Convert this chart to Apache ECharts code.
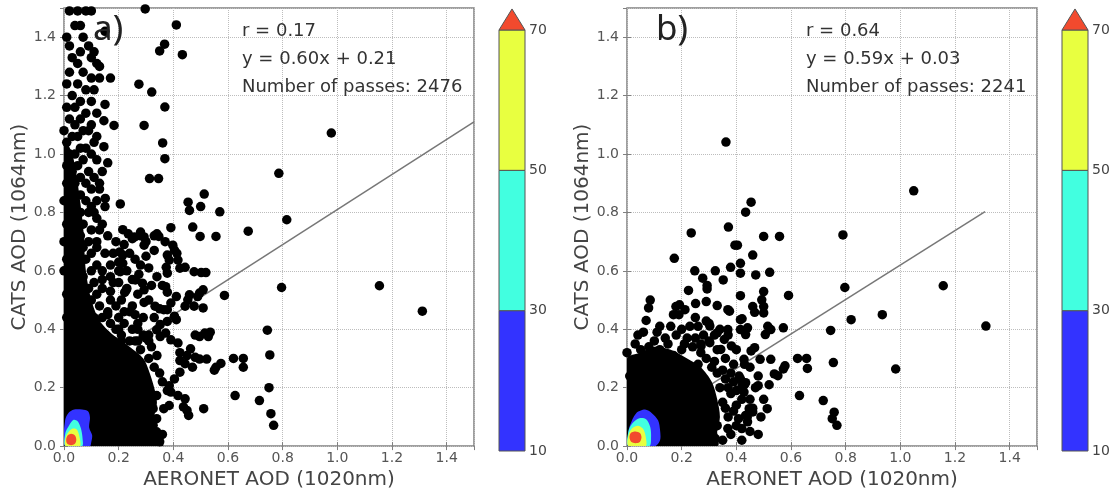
<!DOCTYPE html>
<html>
<head>
<meta charset="utf-8">
<script src="https://cdn.jsdelivr.net/npm/echarts@6/dist/echarts.min.js"></script>
<style>html,body{margin:0;padding:0;background:#fff}#c{width:1120px;height:495px}</style>
</head>
<body>
<div id="c"></div>
<script>
// ---------------- DATA ----------------
const xTickLabels = ['0.0','0.2','0.4','0.6','0.8','1.0','1.2','1.4'];
const colorbarLevels = [10, 30, 50, 70];
const colorbarColors = ['#3333ff', '#42ffe0', '#e8ff40', '#f24a2e'];

const statsA = ['r = 0.17', 'y = 0.60x + 0.21', 'Number of passes: 2476'];
const statsB = ['r = 0.64', 'y = 0.59x + 0.03', 'Number of passes: 2241'];
const fitA = [0.60, 0.21, 0.0, 1.5];   // slope, intercept, xStart, xEnd
const fitB = [0.59, 0.03, 0.0, 1.31];

// solid black dense core (outline)
const coreA = [[0,0],[0.36,0],[0.35,0.04],[0.33,0.09],[0.34,0.15],[0.33,0.2],[0.31,0.26],[0.29,0.3],[0.24,0.34],[0.18,0.38],[0.13,0.43],[0.1,0.5],[0.08,0.6],[0.07,0.75],[0.05,0.9],[0.03,1.0],[0,1.05]];
const coreB = [[0,0],[0.33,0],[0.33,0.05],[0.34,0.1],[0.33,0.16],[0.31,0.22],[0.27,0.27],[0.22,0.3],[0.16,0.33],[0.1,0.34],[0.05,0.32],[0,0.3]];

// density contours (10-30 blue, 30-50 cyan, 50-70 yellow, >70 red)
const contA_blue = [[0.004,0],[0.004,0.088],[0.015,0.112],[0.037,0.125],[0.066,0.125],[0.088,0.119],[0.095,0.098],[0.092,0.064],[0.103,0.037],[0.099,0.01],[0.095,0]];
const contA_cyan = [[0.005,0],[0.005,0.045],[0.018,0.07],[0.035,0.09],[0.05,0.085],[0.062,0.06],[0.068,0.025],[0.066,0]];
const contA_yellow = [[0.006,0],[0.006,0.03],[0.018,0.05],[0.032,0.06],[0.046,0.058],[0.056,0.035],[0.058,0]];
const contA_red = [[0.008,0.02],[0.012,0.035],[0.026,0.042],[0.04,0.036],[0.045,0.022],[0.04,0.008],[0.026,0.003],[0.012,0.008]];
const contB_blue = [[0.004,0],[0.004,0.04],[0.011,0.071],[0.033,0.112],[0.066,0.125],[0.092,0.112],[0.114,0.088],[0.121,0.054],[0.121,0.02],[0.103,0]];
const contB_cyan = [[0.005,0],[0.005,0.05],[0.02,0.078],[0.045,0.095],[0.07,0.092],[0.085,0.065],[0.088,0.03],[0.082,0]];
const contB_yellow = [[0.005,0],[0.006,0.04],[0.02,0.062],[0.04,0.07],[0.058,0.06],[0.068,0.035],[0.068,0]];
const contB_red = [[0.009,0.03],[0.014,0.045],[0.031,0.05],[0.048,0.044],[0.053,0.03],[0.047,0.014],[0.031,0.01],[0.015,0.015]];

// scatter points panel a
const pointsA = [
[0.297,1.497],[0.411,1.442],[0.433,1.34],[0.368,1.376],[0.35,1.353],[0.274,1.239],[0.321,1.212],[0.369,1.161],[0.293,1.098],[0.183,1.098],[0.146,1.114],[0.146,1.025],[0.361,1.038],[0.369,0.984],[0.978,1.072],[0.786,0.934],[0.313,0.916],[0.346,0.916],[0.151,0.848],[0.206,0.829],[0.513,0.863],[0.454,0.835],[0.50,0.82],[0.459,0.807],[0.57,0.802],[0.815,0.775],[0.674,0.736],[0.471,0.75],[0.498,0.718],[0.556,0.718],[0.391,0.748],[0.34,0.727],[0.347,0.718],
[0.215,0.741],[0.235,0.727],[0.258,0.716],[0.28,0.733],[0.293,0.716],[0.293,0.688],[0.398,0.688],[0.404,0.671],[0.413,0.66],[0.417,0.637],[0.204,0.665],[0.215,0.654],[0.215,0.626],[0.206,0.597],[0.378,0.654],[0.385,0.637],[0.424,0.609],[0.443,0.612],[0.476,0.597],[0.502,0.594],[0.519,0.594],[0.374,0.612],[0.378,0.592],
[0.796,0.543],[1.154,0.549],[1.311,0.462],[0.587,0.516],[0.509,0.535],[0.496,0.524],[0.489,0.512],[0.459,0.518],[0.453,0.501],[0.274,0.588],[0.287,0.558],[0.261,0.569],[0.293,0.535],[0.228,0.535],[0.222,0.526],[0.372,0.546],[0.378,0.527],[0.411,0.512],[0.391,0.49],
[0.293,0.492],[0.333,0.479],[0.365,0.467],[0.378,0.467],[0.404,0.445],[0.443,0.479],[0.476,0.479],[0.509,0.473],
[0.744,0.397],[0.753,0.312],[0.62,0.3],[0.656,0.3],[0.656,0.27],[0.574,0.283],[0.55,0.26],[0.556,0.27],[0.75,0.2],[0.626,0.173],[0.715,0.156],[0.757,0.111],[0.767,0.071],[0.511,0.128],
[0.48,0.38],[0.496,0.375],[0.515,0.387],[0.535,0.39],[0.528,0.375],[0.463,0.333],[0.45,0.31],[0.424,0.32],[0.48,0.304],[0.496,0.298],[0.522,0.298],[0.47,0.27],[0.443,0.282],[0.424,0.293],
[0.411,0.433],[0.378,0.427],[0.352,0.416],[0.339,0.398],[0.352,0.375],[0.372,0.387],[0.391,0.364],[0.417,0.353],
[0.424,0.253],[0.404,0.23],[0.385,0.207],[0.378,0.19],[0.391,0.185],[0.417,0.173],[0.443,0.162],[0.437,0.134],[0.45,0.122],[0.456,0.105],
[0.339,0.094],[0.326,0.071],[0.339,0.049],[0.326,0.037],[0.36,0.04],[0.35,0.015],[0.261,0.218],[0.3,0.196],[0.339,0.173],[0.3,0.151],[0.326,0.128],[0.365,0.128],[0.385,0.139],
[0.31,0.3],[0.33,0.27],[0.35,0.25],[0.36,0.22],[0.32,0.34],[0.28,0.33],[0.34,0.31],[0.3,0.37],[0.26,0.36],
[0.02,1.49],[0.05,1.49],[0.08,1.49],[0.10,1.49],[0.04,1.44],[0.01,1.40],[0.07,1.40],[0.02,1.37],[0.09,1.37],[0.06,1.35],[0.11,1.35],[0.03,1.33],[0.10,1.33],[0.05,1.31],[0.12,1.31],[0.02,1.28],[0.07,1.28],[0.10,1.26],[0.13,1.26],[0.17,1.26],[0.01,1.24],[0.05,1.24],[0.08,1.22],[0.11,1.22],[0.03,1.20],[0.06,1.18],[0.10,1.18],[0.01,1.16],[0.04,1.16],[0.08,1.14],[0.12,1.14],[0.02,1.12],[0.06,1.12],[0.10,1.10],[0.04,1.10],[0.00,1.08],[0.07,1.08],[0.09,1.08],[0.03,1.06],[0.05,1.06],[0.11,1.04],[0.01,1.04],[0.06,1.02],[0.08,1.02],[0.02,1.00],[0.04,1.00],[0.10,1.00],[0.07,0.98],[0.12,0.98],[0.01,0.96],[0.05,0.96],[0.09,0.94],[0.03,0.94],[0.14,0.94],[0.06,0.92],[0.11,0.92],[0.01,0.90],[0.04,0.90],[0.08,0.90],[0.10,0.88],[0.13,0.88],[0.03,0.86],[0.06,0.86],[0.00,0.84],[0.08,0.84],[0.12,0.84],[0.04,0.82],[0.10,0.82],[0.02,0.80],[0.06,0.80],[0.09,0.80],[0.12,0.78],[0.04,0.78],[0.01,0.76],[0.07,0.76],[0.03,0.74],[0.10,0.74],[0.13,0.74],[0.06,0.72],[0.16,0.72],[0.00,0.70],[0.04,0.70],[0.09,0.70],[0.02,0.68],[0.12,0.68],[0.07,0.68],[0.05,0.66],[0.10,0.66],[0.15,0.66],[0.01,0.64],[0.08,0.64],[0.03,0.62],[0.06,0.62],[0.12,0.62],[0.00,0.60],[0.10,0.60],[0.14,0.60],[0.04,0.58],[0.07,0.58],[0.17,0.58],[0.02,0.56],[0.11,0.56],[0.06,0.54],[0.09,0.54],[0.14,0.54],[0.01,0.52],[0.04,0.52],[0.12,0.52],[0.07,0.50],[0.10,0.50],[0.17,0.50],[0.21,0.50],[0.03,0.48],[0.13,0.48],[0.19,0.48],[0.05,0.46],[0.09,0.46],[0.16,0.46],[0.24,0.46],[0.01,0.44],[0.11,0.44],[0.14,0.44],[0.20,0.44],[0.07,0.42],[0.17,0.42],[0.22,0.42],[0.27,0.42],[0.04,0.40],[0.12,0.40],[0.19,0.40],[0.25,0.40],[0.09,0.38],[0.15,0.38],[0.21,0.38],[0.29,0.38],[0.13,0.36],[0.18,0.36],[0.24,0.36],[0.27,0.36],[0.31,0.36],
[0.18,0.66],[0.20,0.63],[0.20,0.60],[0.18,0.56],[0.23,0.54],[0.25,0.48],[0.22,0.46],[0.29,0.44],[0.27,0.40],[0.31,0.38],[0.25,0.71],[0.28,0.72],[0.30,0.70],[0.33,0.72],[0.30,0.65],[0.16,0.45],[0.20,0.40],
[0.12,0.70],[0.14,0.76],[0.11,0.80],[0.15,0.82],[0.13,0.90],[0.16,0.97],[0.12,1.06],[0.15,1.17],[0.13,1.30],[0.15,1.42],[0.06,1.44],
[0.17,0.62],[0.23,0.60],[0.25,0.57],[0.26,0.64],[0.22,0.69],[0.19,0.70],[0.24,0.66],[0.27,0.52],[0.31,0.50],[0.32,0.55],[0.26,0.45],[0.33,0.44],[0.35,0.47],[0.21,0.36],[0.17,0.53],[0.14,0.57],[0.20,0.56],[0.31,0.61],[0.28,0.62],[0.34,0.58],[0.36,0.55],[0.33,0.67],[0.37,0.70]
];

// scatter points panel b
const pointsB = [
[0.362,1.041],[1.049,0.874],[0.454,0.835],[0.434,0.801],[0.371,0.75],[0.235,0.73],[0.5,0.718],[0.558,0.718],[0.79,0.723],[0.173,0.643],[0.395,0.688],[0.404,0.688],[0.46,0.654],[0.248,0.6],[0.323,0.6],[0.379,0.612],[0.415,0.626],[0.415,0.592],[0.471,0.586],[0.522,0.595],[0.352,0.569],[0.277,0.575],[0.225,0.533],[0.293,0.55],[0.293,0.538],[0.085,0.5],[0.079,0.473],
[0.17,0.45],[0.179,0.478],[0.192,0.484],[0.212,0.467],[0.251,0.488],[0.29,0.495],[0.33,0.481],[0.369,0.467],[0.375,0.462],
[0.415,0.515],[0.5,0.529],[0.493,0.501],[0.5,0.478],[0.5,0.456],[0.46,0.478],[0.467,0.458],[0.591,0.516],[0.797,0.543],[1.157,0.549],[0.934,0.45],[0.82,0.433],[1.313,0.411],[0.745,0.396],[0.755,0.286],[0.983,0.264],[0.624,0.3],[0.657,0.3],[0.66,0.266],
[0.572,0.405],[0.515,0.41],[0.526,0.399],[0.506,0.382],[0.415,0.399],[0.441,0.405],[0.434,0.382],[0.415,0.433],[0.421,0.436],
[0.467,0.337],[0.454,0.326],[0.428,0.297],[0.487,0.297],[0.526,0.297],[0.578,0.275],[0.572,0.264],[0.552,0.241],[0.539,0.247],
[0.631,0.173],[0.718,0.156],[0.758,0.116],[0.751,0.094],[0.768,0.071],[0.513,0.128],[0.48,0.207],[0.434,0.217],[0.421,0.207],[0.415,0.23],[0.428,0.185],
[0.447,0.128],[0.46,0.117],[0.434,0.105],[0.441,0.083],[0.408,0.094],[0.369,0.06],[0.323,0.026],[0.277,0.032],[0.238,0.02],
[0.29,0.428],[0.303,0.411],[0.33,0.388],[0.369,0.399],[0.356,0.365],[0.382,0.343],[0.343,0.331],[0.303,0.354],[0.271,0.343],
[0.02,0.28],[0.05,0.33],[0.08,0.34],[0.04,0.38],[0.06,0.39],[0.1,0.36],[0.12,0.33],[0.15,0.35],[0.17,0.31],[0.14,0.28],[0.2,0.33],[0.22,0.37],[0.24,0.34],[0.27,0.32],[0.26,0.28],[0.29,0.3],[0.31,0.27],[0.33,0.25],[0.36,0.23],[0.34,0.2],[0.38,0.18],[0.35,0.15],[0.4,0.14],[0.37,0.1],[0.33,0.07],[0.3,0.03],[0.2,0.4],[0.23,0.41],[0.3,0.36],[0.33,0.33],[0.36,0.3],[0.39,0.28],[0.41,0.24],[0.43,0.21],[0.4,0.33],[0.37,0.38],[0.34,0.4],[0.01,0.24],[0.09,0.3],[0.18,0.38],[0.28,0.38],[0.3,0.42],[0.25,0.44],[0.19,0.45],[0.12,0.41],[0.07,0.43],[0.44,0.1],[0.42,0.06],[0.38,0.04],[0.35,0.02],[0.45,0.16],[0.47,0.2],[0.39,0.22],
[0.42,0.02],[0.40,0.07],[0.36,0.13],[0.39,0.12],[0.42,0.16],[0.37,0.20],[0.40,0.19],[0.35,0.26],[0.38,0.25],[0.32,0.29],[0.27,0.35],[0.25,0.37],[0.14,0.37],[0.11,0.39],[0.03,0.35],[0.00,0.32],[0.45,0.27],[0.48,0.24],[0.46,0.13],[0.49,0.10],[0.43,0.28],[0.32,0.38],[0.26,0.41],[0.16,0.41],[0.21,0.35],[0.48,0.04],[0.45,0.05],[0.50,0.16],[0.52,0.21]
];

// ---------------- CHART ----------------
const chart = echarts.init(document.getElementById('c'), null, {renderer: 'canvas'});
const FONT = '"DejaVu Sans", sans-serif';
const GRAY = '#808080';

const grids = [
  {left: 64, top: 8, width: 410, height: 443, show: true, borderColor: GRAY, borderWidth: 1.5, backgroundColor: 'transparent'},
  {left: 627, top: 8, width: 410, height: 443, show: true, borderColor: GRAY, borderWidth: 1.5, backgroundColor: 'transparent'},
  {left: 499, top: 30, width: 26, height: 421},
  {left: 1062, top: 30, width: 26, height: 421}
];

function mainX(g) {
  return [
    {type: 'value', gridIndex: g, min: 0, max: 1.5, interval: 0.2, position: 'bottom',
     name: 'AERONET AOD (1020nm)', nameLocation: 'middle', nameGap: 20,
     nameTextStyle: {fontFamily: FONT, fontSize: 20, color: '#444'},
     axisLine: {show: false},
     axisTick: {inside: true, length: 4, lineStyle: {color: GRAY}},
     axisLabel: {showMaxLabel: false, margin: 5, fontFamily: FONT, fontSize: 14, color: '#555',
                 formatter: v => xTickLabels[Math.round(v / 0.2)] || ''},
     splitLine: {show: true, lineStyle: {type: 'dotted', color: '#bdbdbd', width: 1}}},
    {type: 'value', gridIndex: g, min: 0, max: 1.5, interval: 0.2, position: 'top',
     axisLine: {show: false}, axisTick: {inside: true, length: 4, lineStyle: {color: GRAY}},
     axisLabel: {show: false}, splitLine: {show: false}}
  ];
}
function mainY(g) {
  return [
    {type: 'value', gridIndex: g, min: 0, max: 1.5, interval: 0.2, position: 'left',
     name: 'CATS AOD (1064nm)', nameLocation: 'middle', nameGap: 31,
     nameTextStyle: {fontFamily: FONT, fontSize: 20, color: '#444'},
     axisLine: {show: false},
     axisTick: {inside: true, length: 4, lineStyle: {color: GRAY}},
     axisLabel: {showMaxLabel: false, margin: 8, fontFamily: FONT, fontSize: 14, color: '#555',
                 formatter: v => xTickLabels[Math.round(v / 0.2)] || ''},
     splitLine: {show: true, lineStyle: {type: 'dotted', color: '#bdbdbd', width: 1}}},
    {type: 'value', gridIndex: g, min: 0, max: 1.5, interval: 0.2, position: 'right',
     axisLine: {show: false}, axisTick: {inside: true, length: 4, lineStyle: {color: GRAY}},
     axisLabel: {show: false}, splitLine: {show: false}}
  ];
}
function cbX(g) {
  return {type: 'value', gridIndex: g, min: 0, max: 1, show: false};
}
function cbY(g) {
  return {type: 'value', gridIndex: g, min: 10, max: 70, interval: 20, position: 'right',
    axisLine: {show: false}, axisTick: {show: false}, splitLine: {show: false},
    axisLabel: {margin: 4, fontFamily: FONT, fontSize: 14, color: '#444'}};
}

const xAxes = [...mainX(0), ...mainX(1), cbX(2), cbX(3)];
const yAxes = [...mainY(0), ...mainY(1), cbY(2), cbY(3)];

function fitLine(f) {
  return [[f[2], f[0] * f[2] + f[1]], [f[3], f[0] * f[3] + f[1]]];
}

function polySeries(xi, yi, polys, colors, z) {
  return {
    type: 'custom', xAxisIndex: xi, yAxisIndex: yi, z: z, clip: true, silent: true,
    data: polys.map(p => p[0]),
    renderItem: function (params, api) {
      const pts = polys[params.dataIndex].map(p => api.coord(p));
      return {type: 'polygon', shape: {points: pts, smooth: 0.3}, style: {fill: colors[params.dataIndex], stroke: null}};
    }
  };
}

function colorbarSeries(xi, yi) {
  const bands = [];
  for (let i = 0; i < colorbarLevels.length - 1; i++) bands.push([0, colorbarLevels[i], colorbarLevels[i + 1], i]);
  return [
    {type: 'custom', xAxisIndex: xi, yAxisIndex: yi, silent: true, clip: false,
     data: bands,
     renderItem: function (params, api) {
       const lo = api.value(1), hi = api.value(2), idx = api.value(3);
       const p0 = api.coord([0, hi]), p1 = api.coord([1, lo]);
       return {type: 'rect', shape: {x: p0[0], y: p0[1], width: p1[0] - p0[0], height: p1[1] - p0[1]},
               style: {fill: colorbarColors[idx], stroke: '#555', lineWidth: 1}};
     }},
    {type: 'custom', xAxisIndex: xi, yAxisIndex: yi, silent: true, clip: false,
     data: [[0, 70]],
     renderItem: function (params, api) {
       const pts = [api.coord([0, 70]), api.coord([0.5, 73]), api.coord([1, 70])];
       return {type: 'polygon', shape: {points: pts}, style: {fill: colorbarColors[3], stroke: '#555', lineWidth: 1}};
     }}
  ];
}

const contourColors = [colorbarColors[0], colorbarColors[1], colorbarColors[2], colorbarColors[3]];

const series = [
  {type: 'line', xAxisIndex: 0, yAxisIndex: 0, data: fitLine(fitA), symbol: 'none', z: 1,
   lineStyle: {color: '#777', width: 1.5}, silent: true},
  polySeries(0, 0, [coreA], ['#000'], 2),
  {type: 'scatter', xAxisIndex: 0, yAxisIndex: 0, data: pointsA, symbol: 'circle', symbolSize: 9.5, z: 3,
   itemStyle: {color: '#000', opacity: 1}, silent: true},
  polySeries(0, 0, [contA_blue, contA_cyan, contA_yellow, contA_red], contourColors, 4),

  {type: 'line', xAxisIndex: 2, yAxisIndex: 2, data: fitLine(fitB), symbol: 'none', z: 1,
   lineStyle: {color: '#777', width: 1.5}, silent: true},
  polySeries(2, 2, [coreB], ['#000'], 2),
  {type: 'scatter', xAxisIndex: 2, yAxisIndex: 2, data: pointsB, symbol: 'circle', symbolSize: 9.5, z: 3,
   itemStyle: {color: '#000', opacity: 1}, silent: true},
  polySeries(2, 2, [contB_blue, contB_cyan, contB_yellow, contB_red], contourColors, 4),

  ...colorbarSeries(4, 4),
  ...colorbarSeries(5, 5)
];

function statText(lines, left) {
  const ys = [32, 60, 88];
  return lines.map((t, i) => ({type: 'text', left: left, top: ys[i] - 10, z: 10,
    style: {text: t, font: '18px ' + FONT, fill: '#333'}}));
}

const graphics = [
  ...statText(statsA, 242),
  ...statText(statsB, 806),
  {type: 'text', left: 93, top: 13, z: 10, style: {text: 'a)', font: '35px "Noto Sans", sans-serif', fill: '#222'}},
  {type: 'text', left: 656, top: 13, z: 10, style: {text: 'b)', font: '35px "Noto Sans", sans-serif', fill: '#222'}}
];

chart.setOption({
  animation: false,
  backgroundColor: '#fff',
  grid: grids,
  xAxis: xAxes,
  yAxis: yAxes,
  series: series,
  graphic: graphics
});
</script>
</body>
</html>
